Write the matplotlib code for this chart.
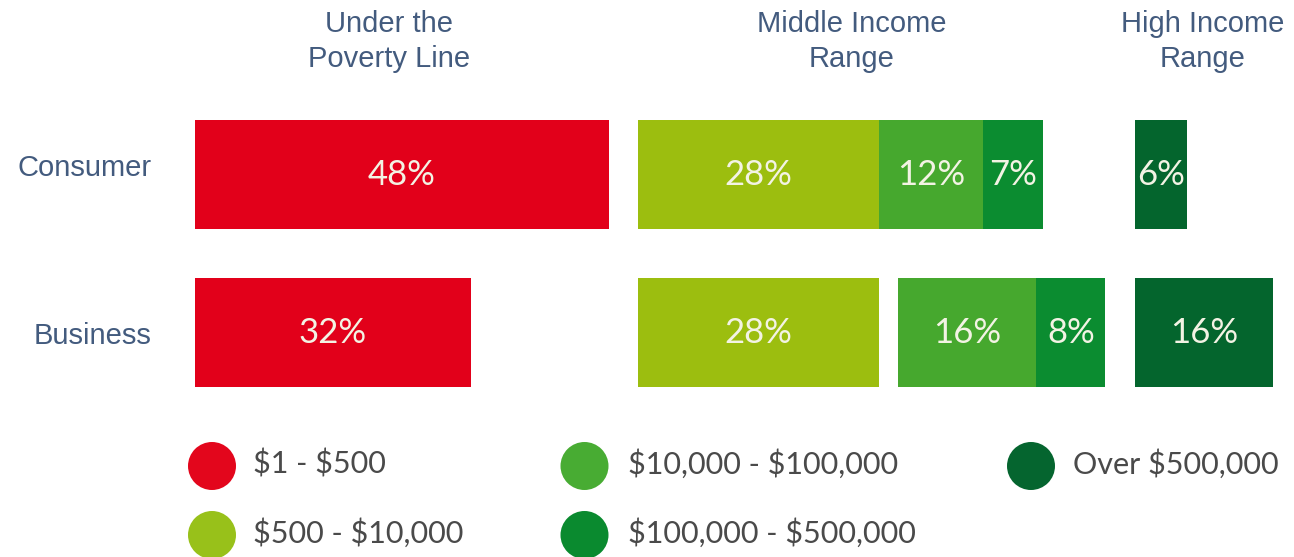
import numpy as np
import matplotlib.pyplot as plt

# data
rows = ["Consumer", "Business"]
groups = [["Under the", "Poverty Line"], ["Middle Income", "Range"],
          ["High Income", "Range"]]
bands = ["$1 - $500", "$500 - $10,000", "$10,000 - $100,000",
         "$100,000 - $500,000", "Over $500,000"]
colors = ["#e2001a", "#9cbe0f", "#46a82e", "#0b8c30", "#04652d"]
legend_colors = ["#e3061c", "#98c11a", "#48ac33", "#0a8a2f", "#05652f"]

consumer = [48, 28, 12, 7, 6]
business = [32, 28, 16, 8, 16]
band_group = [0, 1, 1, 1, 2]   # which income range each band belongs to

# layout (pixels)
W, H = 1294, 557
PX = 8.62          # pixels per percent
X0 = 195           # left edge of first group
group_start = [0, (638 - X0) / PX, (1135 - X0) / PX]
row_y0, row_step, bar_h = 174.5, 158, 109
# business row has a small gap between the 28% and 16% segments
extra_gap = {("Business", 2): (901 - 882) / PX}

fig = plt.figure(figsize=(W / 100, H / 100), dpi=100)
ax = fig.add_axes([0, 0, 1, 1])
ax.set_xlim(-X0 / PX, (W - X0) / PX)
ax.set_ylim((H - row_y0) / row_step, -row_y0 / row_step)
ax.axis("off")

ov = fig.add_axes([0, 0, 1, 1], zorder=3)
ov.set_xlim(0, W)
ov.set_ylim(H, 0)
ov.axis("off")
ov.patch.set_alpha(0)

for r, (name, vals) in enumerate(zip(rows, [consumer, business])):
    pos = {}
    for i, v in enumerate(vals):
        g = band_group[i]
        left = pos.get(g, group_start[g]) + extra_gap.get((name, i), 0)
        ax.barh(r, v, left=left, height=bar_h / row_step, color=colors[i],
                edgecolor="none")
        ax.text(left + v / 2, r, f"{v}%", ha="center", va="center",
                fontsize=25, family="Lato", color="#f3f3e4")
        pos[g] = left + v

# row labels
ov.text(152, 176, "Consumer", ha="right", va="baseline", fontsize=21,
        family="Liberation Sans", color="#435b7e")
ov.text(152, 344, "Business", ha="right", va="baseline", fontsize=21,
        family="Liberation Sans", color="#435b7e")

# group headers
for gx, lines in zip([389, 852, 1203], groups):
    for ly, line in zip([32, 67], lines):
        ov.text(gx, ly, line, ha="center", va="baseline", fontsize=21,
                family="Liberation Sans", color="#435b7e")

# legend
leg_x = [212, 212, 584.5, 584.5, 1031]
leg_y = [466, 535, 466, 535, 466]
text_x = [253, 253, 628, 628, 1073]
for i, b in enumerate(bands):
    ov.scatter(leg_x[i], leg_y[i], s=(48 * 0.72) ** 2, color=legend_colors[i],
               edgecolor="none")
    ov.text(text_x[i], leg_y[i] - 2, b, ha="left", va="center", fontsize=22,
            family="Lato", color="#4a4a4a", parse_math=False)

fig.savefig("out.png", dpi=100)
